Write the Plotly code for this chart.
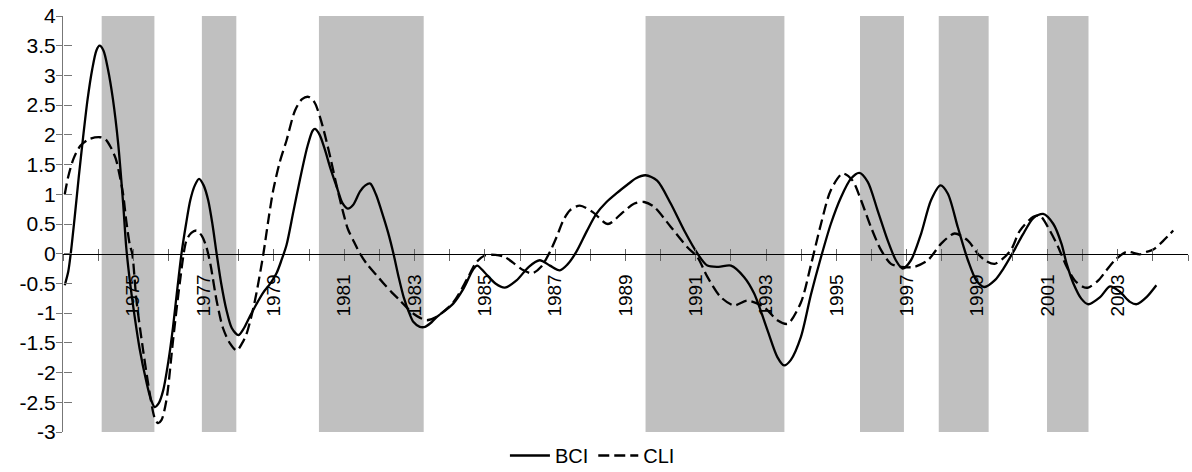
import plotly.graph_objects as go

# ---------------- data ----------------
bci_x = [1973.05, 1973.15, 1973.22, 1973.33, 1973.45, 1973.57, 1973.7, 1973.83, 1973.95, 1974.04,
         1974.15, 1974.28, 1974.42, 1974.57, 1974.71, 1974.8, 1974.9, 1975.0, 1975.18, 1975.37,
         1975.5, 1975.61, 1975.72, 1975.85, 1976.0, 1976.13, 1976.25, 1976.37, 1976.5, 1976.62,
         1976.75, 1976.87, 1977.0, 1977.13, 1977.25, 1977.37, 1977.5, 1977.65, 1977.8, 1977.99,
         1978.15, 1978.32, 1978.5, 1978.7, 1978.9, 1979.08, 1979.22, 1979.36, 1979.55, 1979.74,
         1979.95, 1980.1, 1980.17, 1980.3, 1980.45, 1980.6, 1980.8, 1980.95, 1981.1, 1981.25,
         1981.45, 1981.6, 1981.74, 1981.9, 1982.07, 1982.25, 1982.4, 1982.55, 1982.69, 1982.85,
         1982.97, 1983.15, 1983.3, 1983.45, 1983.62, 1984.1, 1984.4, 1984.66, 1984.78, 1985.0,
         1985.3, 1985.57, 1985.9, 1986.25, 1986.56, 1986.85, 1987.13, 1987.35, 1987.6, 1987.9,
         1988.17, 1988.46, 1988.75, 1989.05, 1989.3, 1989.57, 1989.9, 1990.29, 1990.67, 1991.05,
         1991.33, 1991.65, 1992.0, 1992.37, 1992.66, 1993.04, 1993.32, 1993.51, 1993.7, 1993.99,
         1994.27, 1994.56, 1994.84, 1995.13, 1995.41, 1995.65, 1995.89, 1996.17, 1996.46, 1996.69,
         1996.88, 1997.12, 1997.41, 1997.69, 1997.96, 1998.17, 1998.45, 1998.74, 1998.98, 1999.21,
         1999.5, 1999.75, 2000.03, 2000.3, 2000.6, 2000.88, 2001.17, 2001.4, 2001.55, 2001.74,
         2001.97, 2002.16, 2002.5, 2002.78, 2003.06, 2003.35, 2003.54, 2003.82, 2004.1]
bci_y = [-0.53, -0.3, 0.0, 0.6, 1.3, 1.95, 2.6, 3.1, 3.42, 3.5,
         3.42, 3.1, 2.6, 1.85, 0.85, 0.1, -0.45, -0.9, -1.6, -2.15,
         -2.45, -2.58, -2.52, -2.3, -1.8, -1.23, -0.6, 0.0, 0.5, 0.9,
         1.15, 1.26, 1.15, 0.9, 0.5, 0.0, -0.5, -0.95, -1.25, -1.37,
         -1.25, -1.05, -0.85, -0.65, -0.5, -0.32, -0.1, 0.15, 0.7, 1.25,
         1.8, 2.07, 2.1, 2.0, 1.75, 1.45, 1.1, 0.85, 0.76, 0.82,
         1.05, 1.15, 1.18, 1.0, 0.7, 0.35, 0.0, -0.4, -0.73, -1.0,
         -1.15, -1.23, -1.23, -1.17, -1.07, -0.84, -0.58, -0.27, -0.2, -0.32,
         -0.5, -0.57, -0.45, -0.22, -0.11, -0.2, -0.28, -0.18, 0.03, 0.38,
         0.67, 0.87, 1.02, 1.16, 1.27, 1.32, 1.23, 0.84, 0.39, 0.0,
         -0.2, -0.22, -0.2, -0.39, -0.67, -1.29, -1.74, -1.88, -1.79, -1.4,
         -0.7, -0.06, 0.5, 0.95, 1.26, 1.36, 1.21, 0.73, 0.22, -0.11,
         -0.25, -0.11, 0.34, 0.9, 1.15, 1.01, 0.45, -0.11, -0.45, -0.56,
         -0.45, -0.25, 0.03, 0.32, 0.6, 0.67, 0.5, 0.17, -0.17, -0.5,
         -0.76, -0.85, -0.73, -0.55, -0.64, -0.81, -0.85, -0.73, -0.53]

cli_x = [1973.05, 1973.15, 1973.3, 1973.5, 1973.75, 1974.05, 1974.2, 1974.35, 1974.5, 1974.6,
         1974.71, 1974.8, 1974.9, 1974.97, 1975.09, 1975.28, 1975.47, 1975.6, 1975.7, 1975.8,
         1975.94, 1976.13, 1976.32, 1976.51, 1976.65, 1976.8, 1976.95, 1977.08, 1977.2, 1977.37,
         1977.55, 1977.75, 1977.94, 1978.1, 1978.22, 1978.38, 1978.5, 1978.7, 1978.85, 1978.98,
         1979.17, 1979.36, 1979.6, 1979.8, 1979.98, 1980.15, 1980.31, 1980.45, 1980.6, 1980.8,
         1980.98, 1981.1, 1981.26, 1981.45, 1981.64, 1981.9, 1982.12, 1982.35, 1982.59, 1982.8,
         1982.97, 1983.16, 1983.35, 1983.6, 1984.1, 1984.5, 1984.75, 1985.0, 1985.3, 1985.55,
         1985.8, 1986.1, 1986.35, 1986.6, 1986.85, 1987.04, 1987.23, 1987.42, 1987.7, 1988.07,
         1988.5, 1988.93, 1989.24, 1989.53, 1989.81, 1990.29, 1990.76, 1991.05, 1991.33, 1991.71,
         1992.09, 1992.47, 1992.94, 1993.32, 1993.61, 1993.99, 1994.27, 1994.56, 1994.84, 1995.18,
         1995.46, 1995.7, 1995.98, 1996.27, 1996.55, 1996.84, 1997.22, 1997.6, 1997.98, 1998.36,
         1998.74, 1999.02, 1999.25, 1999.5, 1999.74, 1999.98, 2000.22, 2000.6, 2000.79, 2001.07,
         2001.31, 2001.55, 2001.78, 2002.02, 2002.16, 2002.45, 2002.68, 2002.92, 2003.25, 2003.63,
         2003.82, 2004.01, 2004.3, 2004.58]
cli_y = [1.0, 1.3, 1.6, 1.82, 1.93, 1.96, 1.93, 1.8, 1.6, 1.35,
         1.0, 0.55, 0.15, 0.0, -0.79, -1.63, -2.36, -2.75, -2.85, -2.8,
         -2.47, -1.46, -0.5, 0.22, 0.35, 0.39, 0.3, 0.11, -0.2, -0.79,
         -1.25, -1.51, -1.63, -1.5, -1.35, -1.0, -0.67, 0.0, 0.6, 1.07,
         1.55, 1.91, 2.41, 2.6, 2.64, 2.55, 2.3, 2.0, 1.63, 1.1,
         0.67, 0.42, 0.22, 0.0, -0.17, -0.35, -0.5, -0.65, -0.79, -0.92,
         -1.01, -1.08, -1.12, -1.07, -0.82, -0.42, -0.15, -0.03, -0.02, -0.05,
         -0.15, -0.28, -0.33, -0.22, 0.03, 0.28, 0.56, 0.73, 0.81, 0.7,
         0.5, 0.7, 0.84, 0.87, 0.79, 0.45, 0.11, -0.06, -0.39, -0.73,
         -0.87, -0.79, -0.9, -1.12, -1.18, -0.82, -0.2, 0.5, 1.07, 1.35,
         1.23, 0.9, 0.45, 0.06, -0.17, -0.22, -0.22, -0.11, 0.17, 0.34,
         0.22, 0.0, -0.12, -0.17, -0.08, 0.08, 0.39, 0.62, 0.64, 0.39,
         0.11, -0.22, -0.45, -0.56, -0.57, -0.45, -0.28, -0.11, 0.03, -0.01,
         0.03, 0.07, 0.22, 0.39]

rec_start = [1974.10, 1976.95, 1980.28, 1989.57, 1995.67, 1997.91, 2000.99]
rec_end = [1975.60, 1977.93, 1983.26, 1993.52, 1996.92, 1999.33, 2002.17]

y_ticks = [-3, -2.5, -2, -1.5, -1, -0.5, 0, 0.5, 1, 1.5, 2, 2.5, 3, 3.5, 4]
y_labels = ["-3", "-2.5", "-2", "-1.5", "-1", "-0.5", "0", "0.5", "1", "1.5", "2", "2.5", "3", "3.5", "4"]
x_ticks = list(range(1973, 2006))
x_labels = [str(y) if (y % 2 == 1 and 1975 <= y <= 2003) else "" for y in x_ticks]

X_RANGE = [1973, 2005]
Y_RANGE = [-3, 4]
FONT = "Liberation Sans, Arial, sans-serif"

fig = go.Figure()

fig.add_trace(go.Scatter(x=bci_x, y=bci_y, name="BCI", mode="lines",
                         line=dict(color="black", width=2.3, shape="spline", smoothing=0.8)))
fig.add_trace(go.Scatter(x=cli_x, y=cli_y, name="CLI", mode="lines",
                         line=dict(color="black", width=2.3, dash="11px,5px", shape="spline", smoothing=0.8)))
# empty helper trace so the overlay axes (inner half of cross ticks) are drawn
fig.add_trace(go.Scatter(x=[], y=[], xaxis="x2", yaxis="y2", showlegend=False, hoverinfo="skip"))

for s, e in zip(rec_start, rec_end):
    fig.add_shape(type="rect", xref="x", yref="y", x0=s, x1=e, y0=Y_RANGE[0], y1=Y_RANGE[1],
                  fillcolor="#c0c0c0", line=dict(width=0), layer="below")

zero_pos = (0 - Y_RANGE[0]) / (Y_RANGE[1] - Y_RANGE[0])

fig.update_layout(
    width=1192, height=472,
    margin=dict(l=63, r=4, t=16, b=40, autoexpand=False),
    paper_bgcolor="white", plot_bgcolor="white",
    font=dict(family=FONT, size=19, color="black"),
    showlegend=True,
    legend=dict(orientation="h", xref="container", x=0.497, xanchor="center",
                yref="container", y=0.035, yanchor="middle",
                font=dict(size=20), bgcolor="rgba(0,0,0,0)", itemwidth=40),
    xaxis=dict(range=X_RANGE, anchor="free", position=zero_pos, showgrid=False, zeroline=False,
               showline=True, linecolor="black", linewidth=1, automargin=False,
               tickmode="array", tickvals=x_ticks, ticktext=x_labels, tickangle=-90,
               ticks="outside", ticklen=6, tickcolor="#666", tickwidth=1,
               ticklabelstandoff=6, tickfont=dict(size=19)),
    xaxis2=dict(range=X_RANGE, overlaying="x", anchor="free", position=zero_pos, showgrid=False,
                zeroline=False, showline=False, tickmode="array", tickvals=x_ticks,
                ticks="inside", ticklen=5, tickcolor="#666", tickwidth=1, showticklabels=False),
    yaxis=dict(range=Y_RANGE, showgrid=False, zeroline=False, showline=True, linecolor="#777",
               linewidth=1, tickmode="array", tickvals=y_ticks, ticktext=y_labels, automargin=False,
               ticks="outside", ticklen=6, tickcolor="#777", tickwidth=1,
               ticklabelstandoff=-4, tickfont=dict(size=21)),
    yaxis2=dict(range=Y_RANGE, overlaying="y", anchor="free", position=0, showgrid=False,
                zeroline=False, showline=False, tickmode="array", tickvals=y_ticks,
                ticks="inside", ticklen=8, tickcolor="#777", tickwidth=1, showticklabels=False),
)

fig.write_html("out.html")
